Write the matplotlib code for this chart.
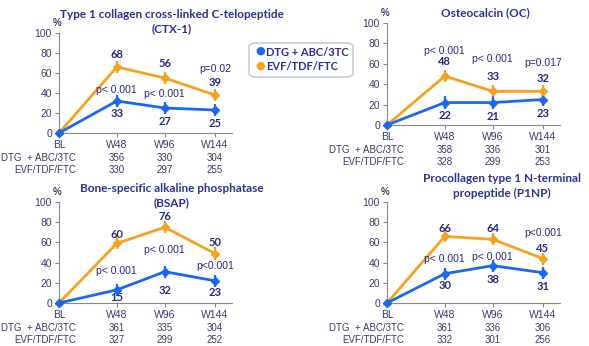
import matplotlib.pyplot as plt
from matplotlib.patches import FancyBboxPatch

plt.rcParams['font.family'] = ['Liberation Sans', 'DejaVu Sans']

# data
visits = ["BL", "W48", "W96", "W144"]
titles = ["Type 1 collagen cross-linked C-telopeptide\n(CTX-1)",
          "Osteocalcin (OC)",
          "Bone-specific alkaline phosphatase\n(BSAP)",
          "Procollagen type 1 N-terminal\npropeptide (P1NP)"]
dtg_vals = [[0, 32, 25, 23], [0, 22, 22, 25], [0, 13, 31, 22], [0, 29, 37, 30]]
evf_vals = [[0, 66, 55, 38], [0, 48, 33, 33], [0, 59, 75, 49], [0, 66, 63, 44]]
dtg_labels = [["33", "27", "25"], ["22", "21", "23"], ["15", "32", "23"], ["30", "38", "31"]]
evf_labels = [["68", "56", "39"], ["48", "33", "32"], ["60", "76", "50"], ["66", "64", "45"]]
pvals = [["p< 0.001", "p< 0.001", "p=0.02"],
         ["p< 0.001", "p< 0.001", "p=0.017"],
         ["p< 0.001", "p< 0.001", "p<0.001"],
         ["p< 0.001", "p< 0.001", "p<0.001"]]
n_dtg = [[356, 330, 304], [358, 336, 301], [361, 335, 304], [361, 336, 306]]
n_evf = [[330, 297, 255], [328, 299, 253], [327, 299, 252], [332, 301, 256]]

# label heights (data units) for each panel
evf_lab_y = [[79, 70, 51], [62, 48, 46], [68, 86, 60], [74, 74, 54]]
dtg_lab_y = [[20, 12, 10], [9, 8, 11], [5, 12, 10], [17, 23, 16]]
p_lab_y = [[43, 39, 64], [73, 65, 61], [32, 52, 37], [44, 46, 69]]

blue = "#1a68f0"
orange = "#f5a21e"
navy = "#2a2a7a"
tick_col = "#3b3b6b"
title_col = "#2e3192"
bold_font = ["Lato", "DejaVu Sans"]

W, H = 589, 346
fig = plt.figure(figsize=(W / 100, H / 100), dpi=100)

xpos = [0, 1.18, 2.16, 3.18]
# (left px, y0 px, y100 px)
boxes = [(59, 133, 33), (387, 125, 23), (59, 303, 202), (387, 303, 202)]
title_xy = [(172, 22), (485, 13), (172, 196), (502, 186)]

for i in range(4):
    lx, y0, y1 = boxes[i]
    ax = fig.add_axes([lx / W, 1 - y0 / H, 173 / W, (y0 - y1) / H])
    ax.set_xlim(0, 3.53)
    ax.set_ylim(0, 100)
    for s in ["top", "right"]:
        ax.spines[s].set_visible(False)
    for s in ["left", "bottom"]:
        ax.spines[s].set_color("#888888")
        ax.spines[s].set_linewidth(0.8)
    ax.set_yticks([0, 20, 40, 60, 80, 100])
    ax.set_xticks(xpos)
    ax.set_xticklabels(visits)
    ax.tick_params(labelsize=7.5, colors="#888888", labelcolor=tick_col, length=3, width=0.8, pad=2)
    ax.patch.set_alpha(0)

    ax.errorbar(xpos[1:], evf_vals[i][1:], yerr=6, fmt="none", ecolor=orange, elinewidth=1.6, clip_on=False)
    ax.errorbar(xpos[1:], dtg_vals[i][1:], yerr=6, fmt="none", ecolor=blue, elinewidth=1.6, clip_on=False)
    ax.plot(xpos, evf_vals[i], color=orange, lw=2, marker="D", ms=4.5, clip_on=False, zorder=3)
    ax.plot(xpos, dtg_vals[i], color=blue, lw=2, marker="D", ms=4.5, clip_on=False, zorder=4)

    for j in range(3):
        x = xpos[j + 1]
        ax.text(x, evf_lab_y[i][j], evf_labels[i][j], ha="center", va="center",
                fontsize=8, fontweight="bold", color=navy, family=bold_font)
        ax.text(x, dtg_lab_y[i][j], dtg_labels[i][j], ha="center", va="center",
                fontsize=8, fontweight="bold", color=navy, family=bold_font)
        ax.text(x, p_lab_y[i][j], pvals[i][j], ha="center", va="center",
                fontsize=7.5, color=navy)

    ax.text(-0.01, 1.1, "%", transform=ax.transAxes, ha="center", va="center",
            fontsize=7, fontweight="bold", color=tick_col)

    # patient numbers table
    ty = y0 + 25
    fig.text((lx + 17) / W, 1 - ty / H, "DTG  + ABC/3TC", ha="right", va="center", fontsize=7, color=tick_col)
    fig.text((lx + 17) / W, 1 - (ty + 12) / H, "EVF/TDF/FTC", ha="right", va="center", fontsize=7, color=tick_col)
    for j in range(3):
        xf = (lx + xpos[j + 1] * 49) / W
        fig.text(xf, 1 - ty / H, str(n_dtg[i][j]), ha="center", va="center", fontsize=7, color=tick_col)
        fig.text(xf, 1 - (ty + 12) / H, str(n_evf[i][j]), ha="center", va="center", fontsize=7, color=tick_col)

    tx, tyy = title_xy[i]
    fig.text(tx / W, 1 - tyy / H, titles[i], ha="center", va="center", fontsize=8.5,
             fontweight="bold", color=title_col, linespacing=1.35, family=bold_font)

# legend box
box = FancyBboxPatch((249 / W, 1 - 77 / H), 104 / W, 34 / H, boxstyle="round,pad=0,rounding_size=0.012",
                     transform=fig.transFigure, facecolor="white", edgecolor="#c8cce0", lw=1.2)
fig.patches.append(box)
fig.text(260 / W, 1 - 51 / H, "\u25cf", color=blue, fontsize=8, ha="center", va="center", family="DejaVu Sans")
fig.text(260 / W, 1 - 66 / H, "\u25cf", color=orange, fontsize=8, ha="center", va="center", family="DejaVu Sans")
fig.text(266 / W, 1 - 52 / H, "DTG + ABC/3TC", color=title_col, fontsize=8, fontweight="bold",
         va="center", family=bold_font)
fig.text(266 / W, 1 - 67 / H, "EVF/TDF/FTC", color=title_col, fontsize=8, fontweight="bold",
         va="center", family=bold_font)

fig.savefig("out.png", dpi=100)
